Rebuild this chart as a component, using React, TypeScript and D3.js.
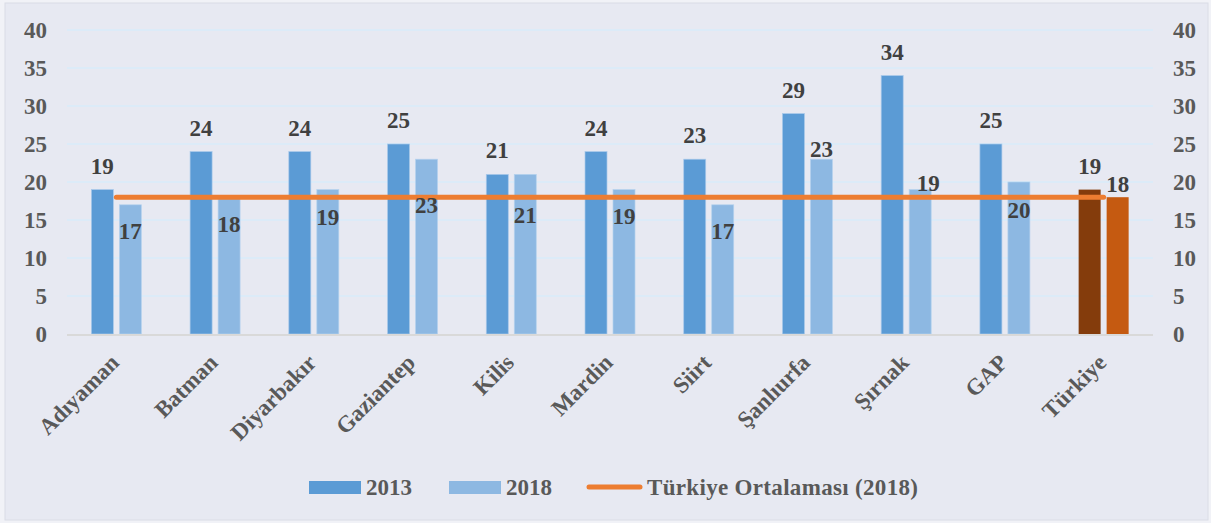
import React from "react";
import * as d3 from "d3";

const categories = ["Adıyaman", "Batman", "Diyarbakır", "Gaziantep", "Kilis", "Mardin", "Siirt", "Şanlıurfa", "Şırnak", "GAP", "Türkiye"];
const values2013 = [19, 24, 24, 25, 21, 24, 23, 29, 34, 25, 19];
const values2018 = [17, 18, 19, 23, 21, 19, 17, 23, 19, 20, 18];
const turkiyeAverage2018 = 18;
const yTicks = [0, 5, 10, 15, 20, 25, 30, 35, 40];
const seriesNames = ["2013", "2018"];
const legendLabels = ["2013", "2018", "Türkiye Ortalaması (2018)"];

// label placement offsets (px) for the 2018 value labels, relative to bar top
const label2018Dy = [26, 27, 27, 46, 41, 26, 26, -10, -7, 28, -13];
const label2018Dx = [0, 0, 0, 0, 0, 0, 0, 0, 8, 0, 0];

const W = 1211;
const H = 523;
const plotLeft = 67;
const plotRight = 1153;
const plotTop = 30;
const plotBottom = 334;

const FONT = "Liberation Serif, Tinos, Times New Roman, DejaVu Serif, serif";
const FS = 23;
const AXIS_COLOR = "#595959";
const LABEL_COLOR = "#404040";
const C2013 = "#5B9BD5";
const C2018 = "#8DB8E2";
const CT2013 = "#843C0C";
const CT2018 = "#C55A11";
const ORANGE = "#ED7D31";

export default function App() {
  const x = d3.scaleBand<string>().domain(categories).range([plotLeft, plotRight]).paddingInner(0).paddingOuter(0);
  const sub = d3.scaleBand<string>().domain(seriesNames).range([0, 50]).paddingInner(2 - 50 / 28);
  const y = d3.scaleLinear().domain([0, 40]).range([plotBottom, plotTop]);
  const center = (c: string) => (x(c) as number) + x.bandwidth() / 2;
  const groupStart = (c: string) => center(c) - 25;

  const line = d3.line<number>()
    .x((_, i) => center(i === 0 ? categories[0] : categories[categories.length - 1]))
    .y((v) => y(v));
  const avgPath = line([turkiyeAverage2018, turkiyeAverage2018]) as string;

  const legendY = 487;

  return (
    <svg width={W} height={H} style={{ position: "absolute", left: 0, top: 0, display: "block", fontFamily: FONT }}>
      <rect x={0} y={0} width={W} height={H} fill="#F1F2F7" />
      <rect x={5} y={3} width={W - 8} height={H - 6} fill="#E7E9F2" stroke="#DADCE6" strokeWidth={1} />
      {/* gridlines */}
      {yTicks.filter((t) => t > 0).map((t) => (
        <line key={t} x1={plotLeft} x2={plotRight} y1={y(t)} y2={y(t)} stroke="#DCEBF8" strokeWidth={2} />
      ))}
      {/* bars */}
      {categories.map((c, i) => {
        const isT = c === "Türkiye";
        const g = groupStart(c);
        const b1x = g + (sub("2013") as number);
        const b2x = g + (sub("2018") as number);
        const bw = sub.bandwidth();
        return (
          <g key={c}>
            <rect x={b1x} y={y(values2013[i])} width={bw} height={plotBottom - y(values2013[i])}
              fill={isT ? CT2013 : C2013} stroke={isT ? "none" : "#A9C9EA"} strokeWidth={0.7} />
            <rect x={b2x} y={y(values2018[i])} width={bw} height={plotBottom - y(values2018[i])}
              fill={isT ? CT2018 : C2018} stroke={isT ? "none" : "#B5D2EE"} strokeWidth={0.7} />
          </g>
        );
      })}
      {/* baseline */}
      <line x1={plotLeft} x2={plotRight} y1={plotBottom + 1} y2={plotBottom + 1} stroke="#D9D9D9" strokeWidth={2} />
      {/* average line */}
      <path d={avgPath} stroke={ORANGE} strokeWidth={5} strokeLinecap="round" fill="none" />
      {/* value labels */}
      {categories.map((c, i) => {
        const g = groupStart(c);
        const bw = sub.bandwidth();
        const cx1 = g + (sub("2013") as number) + bw / 2;
        const cx2 = g + (sub("2018") as number) + bw / 2;
        return (
          <g key={"l" + c} style={{ fontFamily: FONT }} fontWeight="bold" fontSize={FS} fill={LABEL_COLOR} textAnchor="middle">
            <text x={cx1} y={y(values2013[i]) - 24} dy="0.35em">{values2013[i]}</text>
            <text x={cx2 + label2018Dx[i]} y={y(values2018[i]) + label2018Dy[i]} dy="0.35em">{values2018[i]}</text>
          </g>
        );
      })}
      {/* y axes */}
      {yTicks.map((t) => (
        <g key={"yt" + t} style={{ fontFamily: FONT }} fontWeight="bold" fontSize={FS} fill={AXIS_COLOR}>
          <text x={47} y={y(t)} dy="0.35em" textAnchor="end">{t}</text>
          <text x={1173} y={y(t)} dy="0.35em" textAnchor="start">{t}</text>
        </g>
      ))}
      {/* x labels */}
      {categories.map((c) => (
        <text key={"x" + c} transform={`translate(${center(c) + 4},${plotBottom + 30}) rotate(-45)`}
          textAnchor="end" style={{ fontFamily: FONT }} fontWeight="bold" fontSize={FS} fill={AXIS_COLOR}>{c}</text>
      ))}
      {/* legend */}
      <g style={{ fontFamily: FONT }} fontWeight="bold" fontSize={FS} fill={AXIS_COLOR}>
        <rect x={309} y={legendY - 6} width={52} height={13} fill={C2013} />
        <text x={366} y={legendY} dy="0.35em">{legendLabels[0]}</text>
        <rect x={449} y={legendY - 6} width={52} height={13} fill={C2018} />
        <text x={506} y={legendY} dy="0.35em">{legendLabels[1]}</text>
        <line x1={589} x2={640} y1={legendY} y2={legendY} stroke={ORANGE} strokeWidth={5} strokeLinecap="round" />
        <text x={647} y={legendY} dy="0.35em" textLength={271} lengthAdjust="spacing">{legendLabels[2]}</text>
      </g>
    </svg>
  );
}
